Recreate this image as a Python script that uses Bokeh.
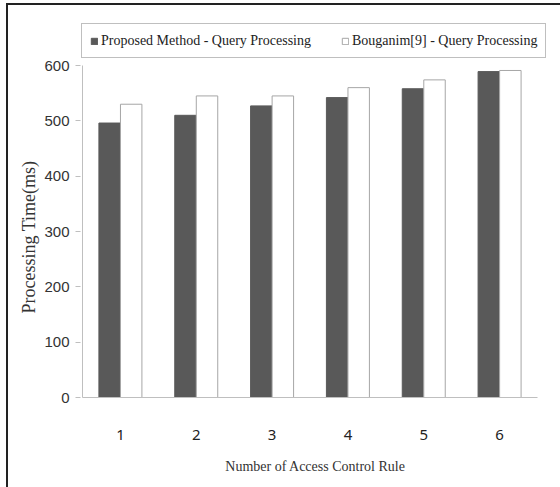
from bokeh.plotting import figure
from bokeh.models import Range1d, Legend, LegendItem, ColumnDataSource, FixedTicker, Title
from bokeh.transform import dodge
from bokeh.embed import file_html
from bokeh.resources import INLINE

categories = ["1", "2", "3", "4", "5", "6"]
proposed = [496, 510, 527, 542, 558, 589]
bouganim = [530, 545, 545, 560, 574, 591]
y_ticks = [0, 100, 200, 300, 400, 500, 600]
series_names = ["Proposed Method - Query Processing", "Bouganim[9] - Query Processing"]

# layout in canvas pixels
W, H = 560, 487
F_LEFT, F_RIGHT, F_TOP, F_BOTTOM = 80, 550, 22, 398   # frame box (legend lives inside it)
AX_LEFT, AX_RIGHT = 82, 537      # where the category axis begins / ends
Y0_PX, Y600_PX = 397, 65         # pixel rows of y=0 and y=600

n = len(categories)
x_pos = [i + 0.5 for i in range(n)]
px_x = (AX_RIGHT - AX_LEFT) / n
px_y = (Y0_PX - Y600_PX) / 600.0
x_start = -(AX_LEFT - F_LEFT) / px_x
x_end = (F_RIGHT - AX_LEFT) / px_x
y_start = -(F_BOTTOM - Y0_PX) / px_y
y_end = (Y0_PX - F_TOP) / px_y

src = ColumnDataSource(dict(x=x_pos, cat=categories, proposed=proposed, bouganim=bouganim))

p = figure(width=W, height=H, output_backend="svg", toolbar_location=None,
           x_range=Range1d(x_start, x_end), y_range=Range1d(y_start, y_end),
           min_border_left=F_LEFT, min_border_right=W - F_RIGHT,
           min_border_top=F_TOP, min_border_bottom=H - F_BOTTOM)
p.styles = {
    "background-color": "white",
    "background-image": "linear-gradient(#222222, #222222), linear-gradient(#222222, #222222)",
    "background-size": "100% 2px, 2px 100%",
    "background-position": "6px 3px, 6px 3px",
    "background-repeat": "no-repeat",
}
p.outline_line_color = None
p.xgrid.visible = False
p.ygrid.visible = False
p.background_fill_color = "white"
p.border_fill_color = None

r1 = p.vbar(x=dodge("x", -0.142), top="proposed", width=0.283, source=src,
            fill_color="#595959", line_color="#595959")
r2 = p.vbar(x=dodge("x", 0.142), top="bouganim", width=0.283, source=src,
            fill_color="white", line_color="#a6a6a6", line_width=1)

# axis lines limited to the data extent
p.segment(x0=[0], y0=[0], x1=[n], y1=[0], line_color="#bfbfbf", line_width=1)
p.segment(x0=[0], y0=[0], x1=[0], y1=[y_ticks[-1]], line_color="#bfbfbf", line_width=1)

p.yaxis.ticker = FixedTicker(ticks=y_ticks)
p.yaxis.axis_line_color = None
p.yaxis.major_tick_line_color = "#bfbfbf"
p.yaxis.major_tick_out = 5
p.yaxis.major_tick_in = 0
p.yaxis.minor_tick_line_color = None
p.yaxis.major_label_text_font = "Liberation Sans"
p.yaxis.major_label_text_font_size = "15px"
p.yaxis.major_label_text_color = "#333333"
p.yaxis.major_label_standoff = 6

p.xaxis.ticker = FixedTicker(ticks=x_pos)
p.xaxis.major_label_overrides = {x: c for x, c in zip(x_pos, categories)}
p.xaxis.axis_line_color = None
p.xaxis.major_tick_line_color = None
p.xaxis.minor_tick_line_color = None
p.xaxis.major_label_text_font = "Noto Sans"
p.xaxis.major_label_text_font_size = "15px"
p.xaxis.major_label_text_color = "#222222"
p.xaxis.major_label_standoff = 25
p.xaxis.axis_label = "Number of Access Control Rule"
p.xaxis.axis_label_text_font = "Liberation Serif"
p.xaxis.axis_label_text_font_style = "normal"
p.xaxis.axis_label_text_font_size = "14px"
p.xaxis.axis_label_text_color = "#333333"
p.xaxis.axis_label_standoff = 16

ytitle = Title(text="Processing Time(ms)", align="left", offset=85, standoff=5,
               text_font="Liberation Serif", text_font_size="18px", text_font_style="normal",
               text_color="#333333")
p.add_layout(ytitle, "left")

legend = Legend(items=[LegendItem(label=series_names[0], renderers=[r1]),
                       LegendItem(label=series_names[1], renderers=[r2])],
                orientation="horizontal", location="top_left",
                label_text_font="Liberation Serif", label_text_font_size="14px",
                label_text_color="#222222",
                glyph_width=8, glyph_height=8, label_standoff=3, spacing=30,
                padding=8, margin=1, border_line_color="#808080", border_line_width=1,
                background_fill_color="white", background_fill_alpha=1,
                label_height=17)
p.add_layout(legend, "center")

open("out.html", "w").write(file_html(p, INLINE))
